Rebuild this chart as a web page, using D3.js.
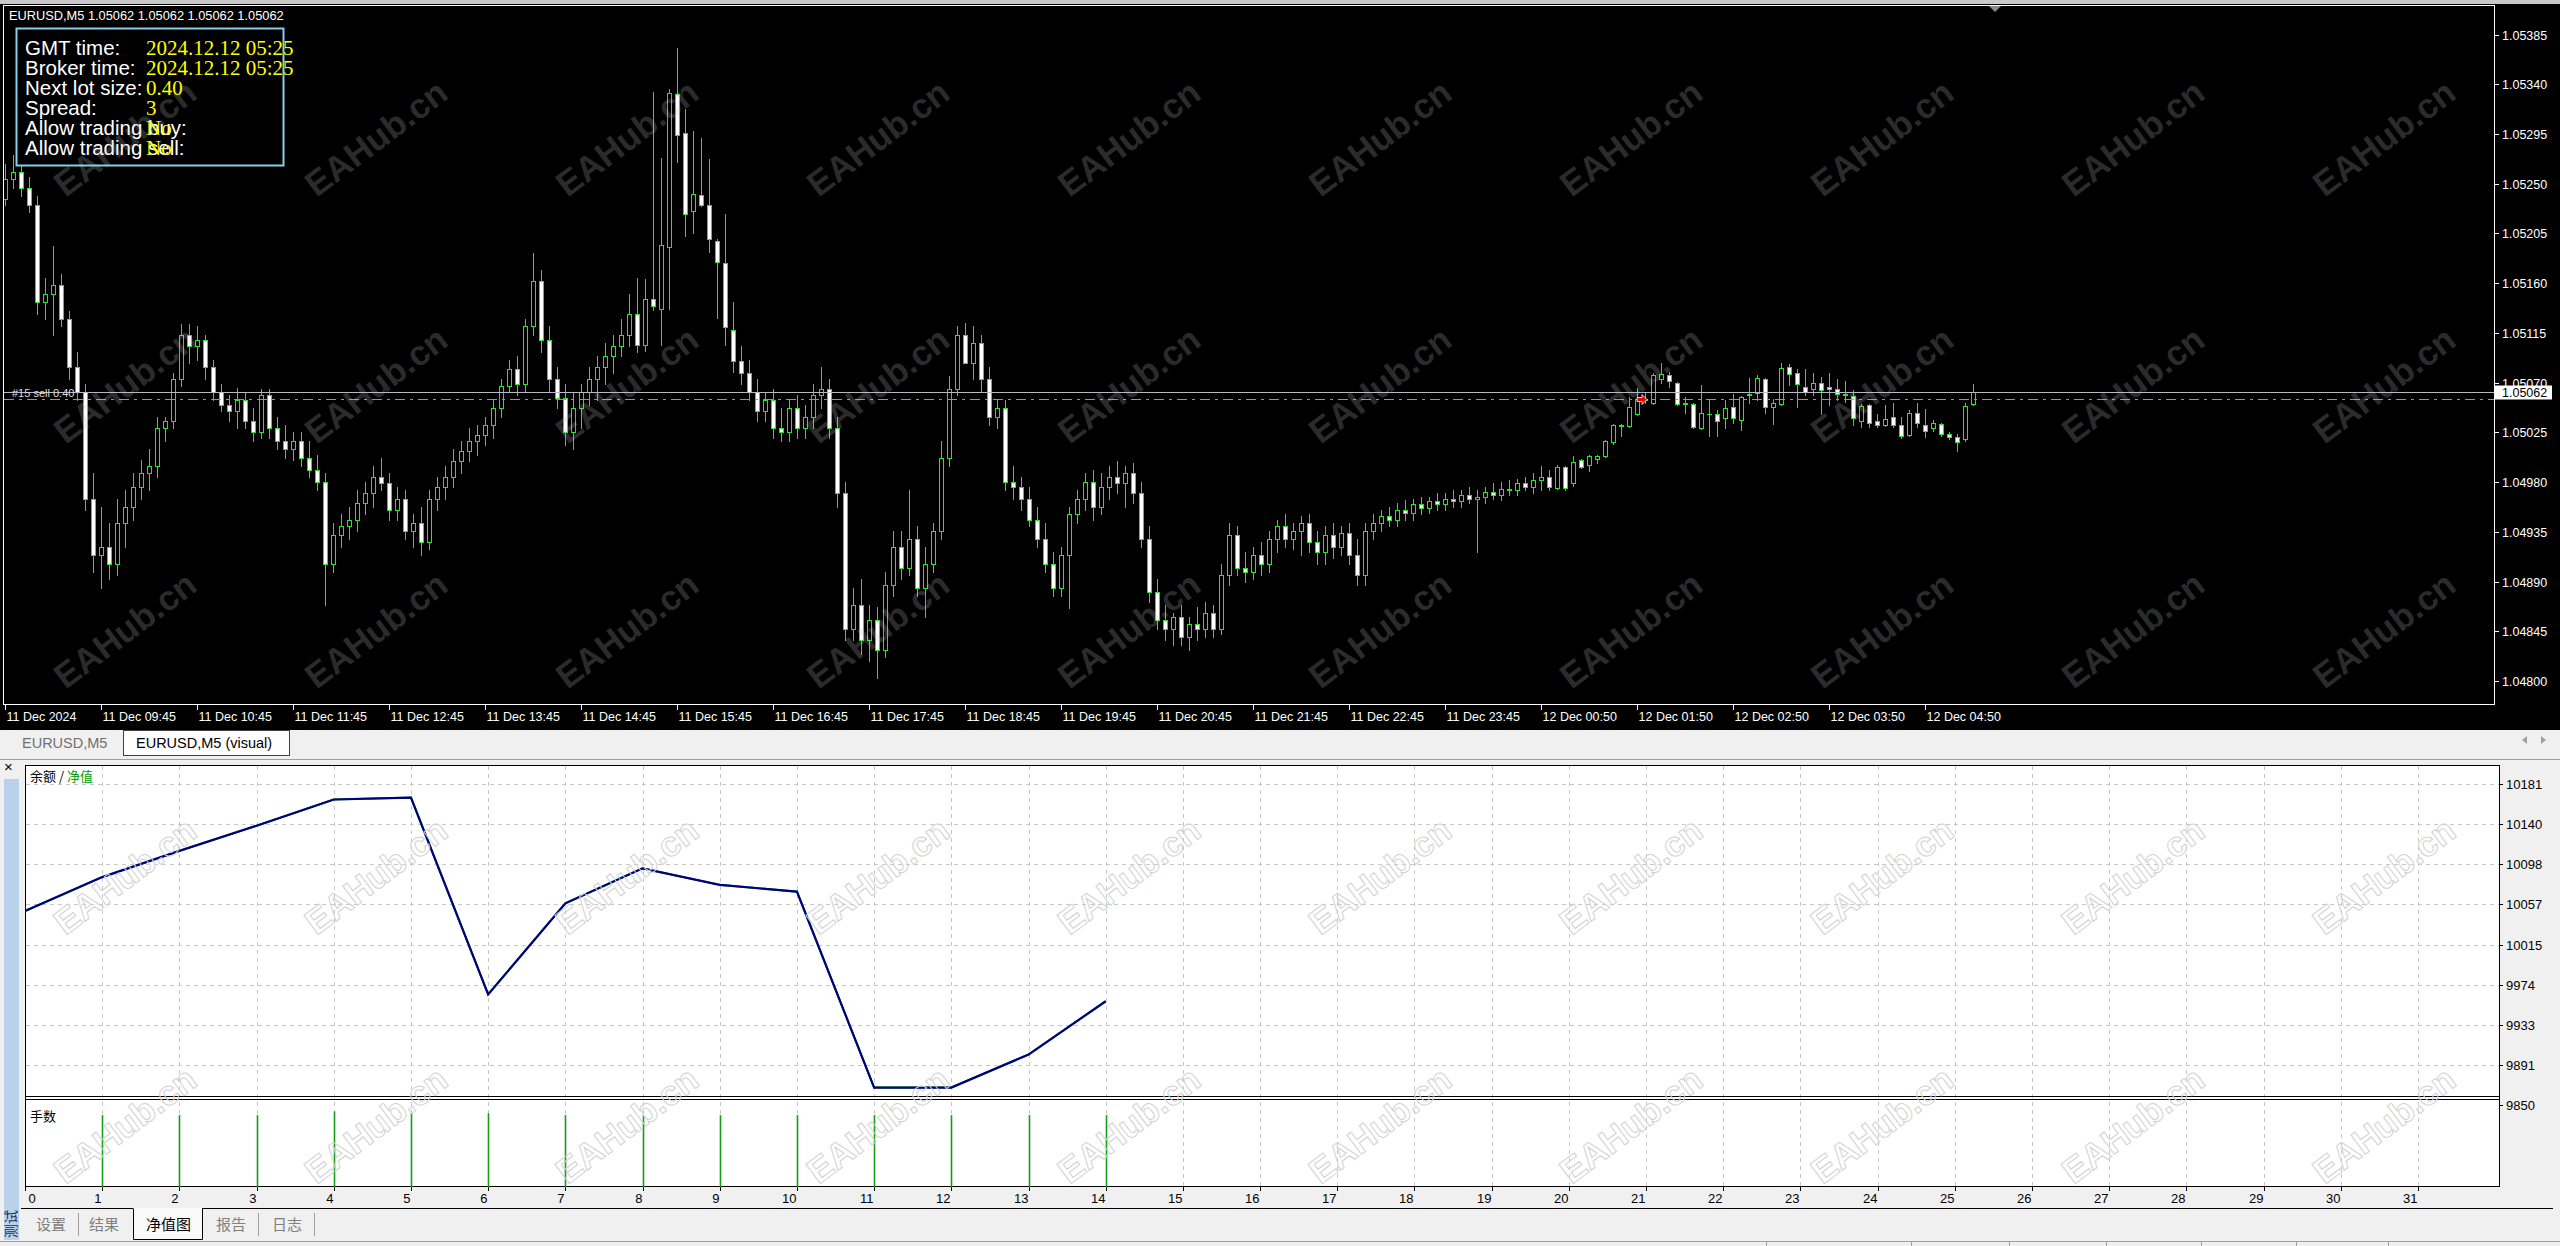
<!DOCTYPE html>
<html><head><meta charset="utf-8">
<script src="https://cdn.jsdelivr.net/npm/d3@7"></script>
<style>html,body{margin:0;padding:0;background:#f0f0f0;overflow:hidden}</style>
</head><body>
<svg id="c" width="2560" height="1246" xmlns="http://www.w3.org/2000/svg"></svg>
<script>
// ---------------- DATA ----------------
const timeLabels = ["11 Dec 2024","11 Dec 09:45","11 Dec 10:45","11 Dec 11:45","11 Dec 12:45","11 Dec 13:45","11 Dec 14:45","11 Dec 15:45","11 Dec 16:45","11 Dec 17:45","11 Dec 18:45","11 Dec 19:45","11 Dec 20:45","11 Dec 21:45","11 Dec 22:45","11 Dec 23:45","12 Dec 00:50","12 Dec 01:50","12 Dec 02:50","12 Dec 03:50","12 Dec 04:50"];
const priceTicks = [1.05385,1.05340,1.05295,1.05250,1.05205,1.05160,1.05115,1.05070,1.05025,1.04980,1.04935,1.04890,1.04845,1.04800];
// EURUSD M5 bars: [open, high, low, close]
const ohlc = [
[1.05236,1.05268,1.05231,1.05254],[1.05254,1.05276,1.05246,1.05261],[1.05261,1.05268,1.05239,1.05246],[1.05246,1.05256,1.05224,1.05231],[1.05231,1.05239,1.05132,1.05143],
[1.05143,1.05165,1.05128,1.05150],[1.05150,1.05194,1.05113,1.05158],[1.05158,1.05168,1.05121,1.05128],[1.05128,1.05135,1.05073,1.05084],[1.05084,1.05098,1.05054,1.05062],
[1.05062,1.05069,1.04955,1.04965],[1.04965,1.04988,1.04899,1.04914],[1.04914,1.04958,1.04884,1.04921],[1.04921,1.04943,1.04892,1.04906],[1.04906,1.04965,1.04896,1.04943],
[1.04943,1.04973,1.04921,1.04958],[1.04958,1.04988,1.04946,1.04976],[1.04976,1.05000,1.04965,1.04988],[1.04988,1.05010,1.04973,1.04995],[1.04995,1.05039,1.04985,1.05029],
[1.05029,1.05039,1.05017,1.05035],[1.05035,1.05079,1.05029,1.05073],[1.05073,1.05123,1.05067,1.05113],[1.05113,1.05123,1.05088,1.05103],[1.05103,1.05121,1.05091,1.05109],
[1.05109,1.05113,1.05073,1.05084],[1.05084,1.05091,1.05054,1.05062],[1.05062,1.05069,1.05044,1.05050],[1.05050,1.05059,1.05035,1.05044],[1.05044,1.05065,1.05029,1.05054],
[1.05054,1.05062,1.05029,1.05035],[1.05035,1.05047,1.05017,1.05025],[1.05025,1.05064,1.05020,1.05059],[1.05059,1.05064,1.05020,1.05029],[1.05029,1.05039,1.05010,1.05017],
[1.05017,1.05032,1.05002,1.05010],[1.05010,1.05025,1.05000,1.05017],[1.05017,1.05025,1.04995,1.05002],[1.05002,1.05017,1.04985,1.04991],[1.04991,1.05005,1.04973,1.04980],
[1.04980,1.04988,1.04869,1.04906],[1.04906,1.04943,1.04899,1.04932],[1.04932,1.04951,1.04921,1.04940],[1.04940,1.04958,1.04929,1.04946],[1.04946,1.04973,1.04936,1.04961],
[1.04961,1.04980,1.04951,1.04970],[1.04970,1.04995,1.04958,1.04985],[1.04985,1.05002,1.04973,1.04979],[1.04979,1.04988,1.04946,1.04955],[1.04955,1.04976,1.04946,1.04965],
[1.04965,1.04973,1.04929,1.04936],[1.04936,1.04951,1.04921,1.04943],[1.04943,1.04958,1.04914,1.04926],[1.04926,1.04973,1.04920,1.04965],[1.04965,1.04985,1.04955,1.04976],
[1.04976,1.04995,1.04965,1.04985],[1.04985,1.05010,1.04976,1.04999],[1.04999,1.05017,1.04988,1.05008],[1.05008,1.05029,1.04999,1.05017],[1.05017,1.05032,1.05005,1.05023],
[1.05023,1.05039,1.05014,1.05032],[1.05032,1.05054,1.05020,1.05047],[1.05047,1.05073,1.05039,1.05067],[1.05067,1.05091,1.05062,1.05082],[1.05082,1.05094,1.05059,1.05069],
[1.05069,1.05128,1.05062,1.05121],[1.05121,1.05187,1.05113,1.05162],[1.05162,1.05172,1.05098,1.05109],[1.05109,1.05121,1.05062,1.05073],[1.05073,1.05084,1.05047,1.05056],
[1.05056,1.05069,1.05014,1.05025],[1.05025,1.05062,1.05010,1.05047],[1.05047,1.05069,1.05029,1.05062],[1.05062,1.05084,1.05050,1.05073],[1.05073,1.05094,1.05054,1.05084],
[1.05084,1.05106,1.05069,1.05094],[1.05094,1.05113,1.05079,1.05103],[1.05103,1.05128,1.05094,1.05113],[1.05113,1.05150,1.05103,1.05132],[1.05132,1.05165,1.05098,1.05104],
[1.05104,1.05164,1.05099,1.05146],[1.05146,1.05333,1.05136,1.05139],[1.05137,1.05273,1.05104,1.05195],[1.05193,1.05336,1.05137,1.05332],[1.05331,1.05373,1.05270,1.05294],
[1.05296,1.05318,1.05203,1.05223],[1.05225,1.05298,1.05205,1.05241],[1.05240,1.05291,1.05230,1.05231],[1.05231,1.05272,1.05188,1.05200],[1.05198,1.05200,1.05129,1.05179],
[1.05178,1.05223,1.05104,1.05120],[1.05118,1.05143,1.05080,1.05090],[1.05090,1.05103,1.05069,1.05079],[1.05079,1.05091,1.05054,1.05062],[1.05062,1.05073,1.05035,1.05044],
[1.05044,1.05062,1.05035,1.05054],[1.05054,1.05064,1.05020,1.05029],[1.05029,1.05047,1.05017,1.05025],[1.05025,1.05054,1.05017,1.05047],[1.05047,1.05059,1.05020,1.05029],
[1.05029,1.05050,1.05020,1.05039],[1.05039,1.05069,1.05029,1.05059],[1.05059,1.05084,1.05047,1.05064],[1.05064,1.05073,1.05020,1.05029],[1.05029,1.05039,1.04958,1.04970],
[1.04970,1.04980,1.04837,1.04847],[1.04847,1.04884,1.04837,1.04869],[1.04869,1.04892,1.04825,1.04837],[1.04837,1.04869,1.04818,1.04855],[1.04855,1.04867,1.04803,1.04828],
[1.04828,1.04899,1.04822,1.04887],[1.04887,1.04936,1.04877,1.04921],[1.04921,1.04936,1.04892,1.04902],[1.04902,1.04973,1.04896,1.04929],[1.04929,1.04940,1.04877,1.04884],
[1.04884,1.04921,1.04858,1.04906],[1.04906,1.04943,1.04899,1.04936],[1.04936,1.05017,1.04929,1.05002],[1.05002,1.05076,1.04995,1.05064],[1.05064,1.05121,1.05059,1.05113],
[1.05113,1.05124,1.05088,1.05088],[1.05088,1.05121,1.05073,1.05106],[1.05106,1.05113,1.05062,1.05073],[1.05073,1.05084,1.05032,1.05039],[1.05039,1.05054,1.05029,1.05047],
[1.05047,1.05054,1.04973,1.04980],[1.04980,1.04995,1.04965,1.04976],[1.04976,1.04985,1.04955,1.04965],[1.04965,1.04976,1.04940,1.04946],[1.04946,1.04958,1.04921,1.04929],
[1.04929,1.04943,1.04899,1.04906],[1.04906,1.04917,1.04877,1.04884],[1.04884,1.04921,1.04877,1.04914],[1.04914,1.04958,1.04866,1.04951],[1.04951,1.04973,1.04943,1.04965],
[1.04965,1.04988,1.04955,1.04980],[1.04980,1.04991,1.04946,1.04958],[1.04958,1.04988,1.04951,1.04976],[1.04976,1.04995,1.04965,1.04985],[1.04985,1.04999,1.04970,1.04979],
[1.04979,1.04995,1.04958,1.04988],[1.04988,1.04997,1.04961,1.04970],[1.04970,1.04980,1.04921,1.04929],[1.04929,1.04940,1.04872,1.04881],[1.04881,1.04892,1.04847,1.04855],
[1.04855,1.04869,1.04837,1.04847],[1.04847,1.04862,1.04833,1.04858],[1.04858,1.04869,1.04833,1.04840],[1.04840,1.04858,1.04828,1.04852],[1.04852,1.04867,1.04837,1.04847],
[1.04847,1.04872,1.04840,1.04862],[1.04862,1.04869,1.04840,1.04847],[1.04847,1.04906,1.04843,1.04896],[1.04896,1.04943,1.04887,1.04932],[1.04932,1.04940,1.04896,1.04902],
[1.04902,1.04917,1.04890,1.04899],[1.04899,1.04921,1.04892,1.04914],[1.04914,1.04926,1.04896,1.04906],[1.04906,1.04936,1.04899,1.04929],[1.04929,1.04946,1.04917,1.04940],
[1.04940,1.04951,1.04921,1.04929],[1.04929,1.04943,1.04920,1.04936],[1.04936,1.04949,1.04914,1.04943],[1.04943,1.04951,1.04917,1.04926],[1.04926,1.04936,1.04906,1.04917],
[1.04917,1.04940,1.04906,1.04932],[1.04932,1.04943,1.04911,1.04921],[1.04921,1.04940,1.04914,1.04934],[1.04934,1.04943,1.04906,1.04914],[1.04914,1.04929,1.04887,1.04896],
[1.04896,1.04943,1.04887,1.04936],[1.04936,1.04951,1.04929,1.04943],[1.04943,1.04955,1.04936,1.04949],[1.04949,1.04958,1.04940,1.04946],[1.04946,1.04961,1.04940,1.04955],
[1.04955,1.04964,1.04946,1.04952],[1.04952,1.04965,1.04946,1.04960],[1.04960,1.04967,1.04951,1.04957],[1.04957,1.04967,1.04952,1.04963],[1.04963,1.04970,1.04955,1.04960],
[1.04960,1.04970,1.04955,1.04965],[1.04965,1.04973,1.04958,1.04963],[1.04963,1.04973,1.04958,1.04968],[1.04968,1.04976,1.04961,1.04965],[1.04965,1.04973,1.04917,1.04967],
[1.04967,1.04976,1.04961,1.04971],[1.04971,1.04979,1.04965,1.04968],[1.04968,1.04980,1.04964,1.04974],[1.04974,1.04982,1.04968,1.04973],[1.04973,1.04983,1.04968,1.04979],
[1.04979,1.04985,1.04973,1.04976],[1.04976,1.04988,1.04970,1.04982],[1.04982,1.04995,1.04973,1.04985],[1.04985,1.04991,1.04973,1.04976],
[1.04975,1.04996,1.04974,1.04994],[1.04994,1.04995,1.04973,1.04975],[1.04979,1.05004,1.04977,1.04998],[1.05000,1.05001,1.04993,1.04994],[1.04996,1.05005,1.04990,1.05004],
[1.05001,1.05005,1.04997,1.05004],[1.05004,1.05018,1.05003,1.05017],[1.05016,1.05033,1.05015,1.05032],[1.05032,1.05033,1.05022,1.05031],[1.05031,1.05057,1.05030,1.05048],
[1.05042,1.05065,1.05041,1.05055],[1.05055,1.05061,1.05052,1.05054],[1.05052,1.05079,1.05051,1.05077],[1.05073,1.05088,1.05070,1.05078],[1.05077,1.05080,1.05066,1.05072],
[1.05070,1.05071,1.05050,1.05051],[1.05052,1.05057,1.05043,1.05051],[1.05051,1.05052,1.05029,1.05030],[1.05029,1.05068,1.05028,1.05043],[1.05042,1.05054,1.05022,1.05042],
[1.05042,1.05045,1.05022,1.05035],[1.05038,1.05054,1.05029,1.05047],[1.05048,1.05060,1.05034,1.05038],[1.05036,1.05058,1.05027,1.05057],[1.05060,1.05074,1.05052,1.05059],
[1.05061,1.05077,1.05054,1.05074],[1.05073,1.05074,1.05043,1.05048],[1.05048,1.05055,1.05033,1.05052],[1.05051,1.05088,1.05050,1.05083],[1.05084,1.05087,1.05068,1.05078],
[1.05079,1.05082,1.05048,1.05069],[1.05066,1.05082,1.05059,1.05062],[1.05064,1.05079,1.05059,1.05070],[1.05070,1.05075,1.05042,1.05063],[1.05066,1.05079,1.05050,1.05064],
[1.05064,1.05073,1.05054,1.05060],[1.05060,1.05072,1.05053,1.05059],[1.05058,1.05063,1.05032,1.05038],[1.05035,1.05051,1.05030,1.05049],[1.05050,1.05051,1.05030,1.05034],
[1.05035,1.05042,1.05030,1.05032],[1.05032,1.05050,1.05031,1.05037],[1.05039,1.05052,1.05030,1.05032],[1.05032,1.05039,1.05020,1.05022],[1.05023,1.05045,1.05022,1.05043],
[1.05043,1.05052,1.05030,1.05034],[1.05032,1.05046,1.05021,1.05026],[1.05029,1.05036,1.05026,1.05034],[1.05033,1.05034,1.05022,1.05024],[1.05024,1.05025,1.05019,1.05021],
[1.05021,1.05024,1.05008,1.05016],[1.05019,1.05052,1.05017,1.05049],[1.05051,1.05069,1.05050,1.05062]];
const bidPrice = 1.05062, orderPrice = 1.05055, orderBar = 205;
const tradeNo = [0,1,2,3,4,5,6,7,8,9,10,11,12,13,14];
const balance = [10050,10085,10112,10138,10165,10167,9964,10058,10094,10077,10070,9868,9868,9902,9957];
const lots = [null,0.38,0.38,0.38,0.40,0.39,0.39,0.38,0.38,0.38,0.38,0.38,0.38,0.38,0.38];
const eqTicks = [10181,10140,10098,10057,10015,9974,9933,9891,9850];
const infoLabels = ["GMT time:","Broker time:","Next lot size:","Spread:","Allow trading buy:","Allow trading sell:"];
const infoValues = ["2024.12.12 05:25","2024.12.12 05:25","0.40","3","No","No"];

const bars = ohlc.map(k=>({o:k[0],h:k[1],l:k[2],c:k[3]}));

// ---------------- DRAW ----------------
const svg = d3.select("#c");
const UI = "'Liberation Sans', Arial, sans-serif";
const CJK = "'Noto Sans CJK SC', sans-serif";
const GREEN = "#22e822";
const defs = svg.append("defs");
defs.append("clipPath").attr("id","plotClip").append("rect").attr("x",4).attr("y",6).attr("width",2490).attr("height",698);
defs.append("clipPath").attr("id","topClip").append("rect").attr("x",0).attr("y",4).attr("width",2560).attr("height",725);
defs.append("clipPath").attr("id","botClip").append("rect").attr("x",0).attr("y",757).attr("width",2560).attr("height",489);
defs.append("clipPath").attr("id","eqClip").append("rect").attr("x",25).attr("y",765).attr("width",2475).attr("height",331);

svg.append("rect").attr("width",2560).attr("height",1246).attr("fill","#f0f0f0");
svg.append("rect").attr("x",0).attr("y",0).attr("width",2560).attr("height",4).attr("fill","#c8c8c8");
svg.append("rect").attr("x",0).attr("y",4).attr("width",2560).attr("height",725).attr("fill","#000");

const x = d3.scaleLinear().domain([0,246]).range([5,1973]);
const y = d3.scaleLinear().domain([1.04800,1.05385]).range([681.2,34.5]);

svg.append("rect").attr("x",3.5).attr("y",5.5).attr("width",2491).attr("height",699).attr("fill","none").attr("stroke","#fff");

const pa = svg.append("g");
priceTicks.forEach(p=>{
  const yy = Math.round(y(p))+0.5;
  pa.append("line").attr("x1",2495).attr("x2",2499).attr("y1",yy).attr("y2",yy).attr("stroke","#fff");
  pa.append("text").attr("x",2502).attr("y",yy).attr("dy","0.36em").attr("fill","#fff").attr("font-family",UI).attr("font-size",12.5).text(d3.format(".5f")(p));
});
const ta = svg.append("g");
timeLabels.forEach((t,k)=>{
  const xx = Math.round(x(k*12))+0.5;
  ta.append("line").attr("x1",xx).attr("x2",xx).attr("y1",705).attr("y2",710).attr("stroke","#fff");
  ta.append("text").attr("x",xx+1).attr("y",721).attr("fill","#fff").attr("font-family",UI).attr("font-size",12.5).text(t);
});

const gc = svg.append("g").attr("clip-path","url(#plotClip)");
bars.forEach((d,i)=>{
  const cx = Math.round(x(i))+0.5;
  gc.append("line").attr("x1",cx).attr("x2",cx).attr("y1",Math.round(y(d.h))).attr("y2",Math.round(y(d.l))+1).attr("stroke",GREEN);
  const yo = Math.round(y(d.o)), yc = Math.round(y(d.c));
  const top = Math.min(yo,yc), bot = Math.max(yo,yc);
  if (bot-top < 1) {
    gc.append("line").attr("x1",cx-2.5).attr("x2",cx+2.5).attr("y1",top+0.5).attr("y2",top+0.5).attr("stroke",GREEN);
  } else {
    gc.append("rect").attr("x",cx-2).attr("y",top+0.5).attr("width",4).attr("height",bot-top)
      .attr("fill", d.c>=d.o ? "#000" : "#fff").attr("stroke",GREEN);
  }
});

const yb = Math.round(y(bidPrice))+0.5;
svg.append("line").attr("x1",4).attr("x2",2494).attr("y1",yb).attr("y2",yb).attr("stroke","#b8b8c8");
const yo2 = Math.round(y(orderPrice))+0.5;
svg.append("line").attr("x1",4).attr("x2",2494).attr("y1",yo2).attr("y2",yo2).attr("stroke",GREEN).attr("stroke-dasharray","10,5,3,5");
svg.append("text").attr("x",12).attr("y",yo2-3).attr("fill","#ddd").attr("font-family",UI).attr("font-size",11).text("#15 sell 0.40");
const ax = x(orderBar)-3, ay = yo2;
svg.append("path").attr("d",`M${ax-5},${ay-2}L${ax},${ay-2}L${ax},${ay-5}L${ax+5},${ay}L${ax},${ay+5}L${ax},${ay+2}L${ax-5},${ay+2}Z`)
  .attr("fill","#e00").attr("stroke","#fff").attr("stroke-width",0.8);
svg.append("rect").attr("x",2495).attr("y",yb-7).attr("width",57).attr("height",14).attr("fill","#fff");
svg.append("text").attr("x",2502).attr("y",yb).attr("dy","0.36em").attr("fill","#000").attr("font-family",UI).attr("font-size",12.5).text(d3.format(".5f")(bidPrice));

svg.append("text").attr("x",9).attr("y",20).attr("fill","#fff").attr("font-family",UI).attr("font-size",12.8)
  .text("EURUSD,M5  1.05062 1.05062 1.05062 1.05062");
svg.append("path").attr("d","M1989,6L2001,6L1995,12Z").attr("fill","#8a8a8a");

svg.append("rect").attr("x",16.5).attr("y",28.5).attr("width",267).attr("height",137).attr("fill","#000").attr("stroke","#87cee8").attr("stroke-width",2);
infoLabels.forEach((t,k)=>{
  svg.append("text").attr("x",25).attr("y",55+20*k).attr("fill","#fff").attr("font-family",UI).attr("font-size",20.5).text(t);
});
infoValues.forEach((t,k)=>{
  svg.append("text").attr("x",146).attr("y",55+20*k).attr("fill","#ffff00").attr("font-family","'Liberation Serif', 'DejaVu Serif', serif").attr("font-size",21).text(t);
});

const wmCols = d3.range(10).map(k=>125+251*k);
const wmRows = [138,385,630,876,1125];
const wmTop = svg.append("g").attr("clip-path","url(#topClip)");
wmRows.forEach(r=>wmCols.forEach(c=>{
  wmTop.append("text").attr("transform",`translate(${c},${r}) rotate(-37)`).attr("text-anchor","middle").attr("dy","0.35em")
    .attr("font-family",UI).attr("font-weight","bold").attr("font-size",35).attr("fill","#c8c8c8").attr("fill-opacity",0.22).text("EAHub.cn");
}));

// tabs row
svg.append("line").attr("x1",0).attr("x2",2560).attr("y1",729.5).attr("y2",729.5).attr("stroke","#000");
svg.append("text").attr("x",22).attr("y",748).attr("fill","#707070").attr("font-family",UI).attr("font-size",14.5).text("EURUSD,M5");
svg.append("rect").attr("x",123.5).attr("y",730.5).attr("width",166).attr("height",25).attr("fill","#fff").attr("stroke","#404040");
svg.append("text").attr("x",136).attr("y",748).attr("fill","#000").attr("font-family",UI).attr("font-size",14.5).text("EURUSD,M5 (visual)");
svg.append("line").attr("x1",0).attr("x2",2560).attr("y1",759.5).attr("y2",759.5).attr("stroke","#a0a0a0");
svg.append("path").attr("d","M2527,736L2527,744L2522,740Z").attr("fill","#a0a0a0");
svg.append("path").attr("d","M2541,736L2541,744L2546,740Z").attr("fill","#a0a0a0");

// tester panel
svg.append("text").attr("x",4).attr("y",772).attr("fill","#000").attr("font-family",UI).attr("font-size",15).text("×");
svg.append("rect").attr("x",4).attr("y",779).attr("width",15).attr("height",461).attr("fill","#b9d1ea");
svg.append("text").attr("transform","translate(16,1238) rotate(-90)").attr("fill","#1a2a55").attr("font-family",CJK).attr("font-size",14).text("测试");

const ex = d3.scaleLinear().domain([0,31]).range([25,2418]);
const ey = d3.scaleLinear().domain([9850,10181]).range([1105,784]);
const ly = d3.scaleLinear().domain([0,0.46]).range([1187,1100]);

svg.append("rect").attr("x",25.5).attr("y",765.5).attr("width",2474).attr("height",421).attr("fill","#fff");
const grid = svg.append("g").attr("stroke","#c8c8c8").attr("stroke-dasharray","4,4");
d3.range(1,32).forEach(i=>{
  const xx = Math.round(ex(i))+0.5;
  grid.append("line").attr("x1",xx).attr("x2",xx).attr("y1",766).attr("y2",1187);
});
eqTicks.forEach(v=>{
  const yy = Math.round(ey(v))+0.5;
  if (yy < 1095) grid.append("line").attr("x1",26).attr("x2",2499).attr("y1",yy).attr("y2",yy);
});
svg.append("rect").attr("x",25.5).attr("y",765.5).attr("width",2474).attr("height",421).attr("fill","none").attr("stroke","#000");
svg.append("line").attr("x1",25).attr("x2",2500).attr("y1",1096.5).attr("y2",1096.5).attr("stroke","#000");
svg.append("line").attr("x1",25).attr("x2",2500).attr("y1",1099.5).attr("y2",1099.5).attr("stroke","#000");

eqTicks.forEach(v=>{
  const yy = Math.round(ey(v))+0.5;
  svg.append("line").attr("x1",2500).attr("x2",2503).attr("y1",yy).attr("y2",yy).attr("stroke","#000");
  svg.append("text").attr("x",2506).attr("y",yy).attr("dy","0.36em").attr("fill","#000").attr("font-family",UI).attr("font-size",13).text(v);
});
d3.range(0,32).forEach(i=>{
  const xx = Math.round(ex(i))+0.5;
  svg.append("line").attr("x1",xx).attr("x2",xx).attr("y1",1187).attr("y2",1191).attr("stroke","#000");
  svg.append("text").attr("x", i===0 ? xx+3 : xx-1).attr("y",1203).attr("text-anchor", i===0 ? "start":"end")
    .attr("fill","#000").attr("font-family",UI).attr("font-size",13).text(i);
});

svg.append("text").attr("x",30).attr("y",781).attr("font-family",CJK).attr("font-size",13)
  .call(t=>{t.append("tspan").attr("fill","#000").text("余额 / "); t.append("tspan").attr("fill","#00a000").text("净值");});
svg.append("text").attr("x",30).attr("y",1121).attr("font-family",CJK).attr("font-size",13).attr("fill","#000").text("手数");

const line = d3.line().x((d,i)=>ex(tradeNo[i])).y(d=>ey(d));
svg.append("path").attr("clip-path","url(#eqClip)").attr("d",line(balance)).attr("fill","none").attr("stroke","#00a000").attr("stroke-width",2);
svg.append("path").attr("clip-path","url(#eqClip)").attr("d",line(balance)).attr("fill","none").attr("stroke","#000080").attr("stroke-width",2.2);

lots.forEach((v,i)=>{
  if (v==null) return;
  const xx = Math.round(ex(tradeNo[i]))+0.5;
  svg.append("line").attr("x1",xx).attr("x2",xx).attr("y1",ly(0)).attr("y2",ly(v)).attr("stroke","#11a011").attr("stroke-width",1.6);
});

// bottom tabs
svg.append("line").attr("x1",21).attr("x2",2553).attr("y1",1208.5).attr("y2",1208.5).attr("stroke","#000");
svg.append("rect").attr("x",133).attr("y",1208).attr("width",69).attr("height",32).attr("fill","#fafafa");
svg.append("path").attr("d","M133.5,1208.5V1239.5H202.5V1208.5").attr("fill","none").attr("stroke","#000");
const tabs = [["设置",36,false],["结果",89,false],["净值图",146,true],["报告",216,false],["日志",272,false]];
tabs.forEach(t=>{
  svg.append("text").attr("x",t[1]).attr("y",1230).attr("fill",t[2]?"#000":"#808080").attr("font-family",CJK).attr("font-size",15).text(t[0]);
});
[78,258,314].forEach(xx=>svg.append("line").attr("x1",xx+0.5).attr("x2",xx+0.5).attr("y1",1213).attr("y2",1236).attr("stroke","#a0a0a0"));
svg.append("line").attr("x1",0).attr("x2",2560).attr("y1",1241.5).attr("y2",1241.5).attr("stroke","#a0a0a0");
[1766,1911,2009,2106,2201,2296,2388].forEach(xx=>svg.append("line").attr("x1",xx+0.5).attr("x2",xx+0.5).attr("y1",1242).attr("y2",1246).attr("stroke","#a0a0a0"));

const wmBot = svg.append("g").attr("clip-path","url(#botClip)");
wmRows.forEach(r=>wmCols.forEach(c=>{
  wmBot.append("text").attr("transform",`translate(${c},${r}) rotate(-37)`).attr("text-anchor","middle").attr("dy","0.35em")
    .attr("font-family",UI).attr("font-weight","bold").attr("font-size",35).attr("fill","none").attr("stroke","#d2d2d2").attr("stroke-width",1).text("EAHub.cn");
}));
</script>
</body></html>
